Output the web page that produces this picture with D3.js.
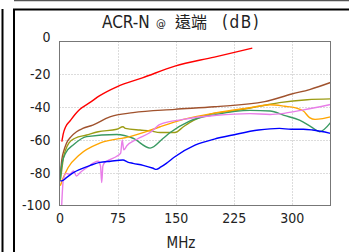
<!DOCTYPE html>
<html>
<head>
<meta charset="utf-8">
<script src="https://cdn.jsdelivr.net/npm/d3@7"></script>
<style>
body { margin: 0; background: #fff; }
text { font-family: "DejaVu Sans Condensed", "DejaVu Sans", sans-serif; fill: #222; }
</style>
</head>
<body>
<script>
// axis ticks
var xTicks = [0, 75, 150, 225, 300];
var yTicks = [0, -20, -40, -60, -80, -100];

// series: [MHz, dB]
var redData = [[3, -61], [5, -56], [8, -52], [13.5, -48.5], [20, -44.5], [26, -41.5], [40, -37], [52, -33], [74, -27.6], [108, -22], [149, -15], [200, -9.5], [249, -4]];
var brownData = [[1, -82], [3, -72], [6, -66], [9, -62], [15, -58], [22, -55], [30, -53], [43, -51], [65, -46], [95, -43.4], [149, -41.4], [200, -39.8], [265, -36.7], [300, -32], [323, -29.3], [350, -25]];
var oliveData = [[1, -85], [3, -78], [5, -71], [8, -66], [12, -62], [20, -59], [35, -57], [50, -55], [74, -53.5], [82, -52], [85, -53], [104, -54], [117, -54.5], [130, -55.5], [149, -55.5], [160, -52], [168, -49.5], [180, -46.5], [194, -44.4], [224, -42.4], [259, -39.4], [284, -37.3], [320, -35.5], [350, -35]];
var greenData = [[1, -84], [3, -75], [8, -68], [18, -63], [35, -58], [74, -56.7], [95, -59], [117, -65], [134, -59], [143, -55.5], [168, -48.5], [203, -44.4], [246, -42], [272, -42.4], [290, -45], [310, -48], [325, -52], [336, -55], [350, -49.5]];
var orangeData = [[1, -88], [5, -83], [11, -77], [26, -69], [52, -62], [91, -58], [112, -55], [130, -52], [160, -47.5], [203, -43.4], [246, -40.4], [272, -38.6], [291, -39.5], [305, -40.5], [315, -42.4], [323, -46.4], [330, -47.5], [340, -47], [350, -46]];
var violetData = [[2.8, -100], [5, -84], [9, -80.4], [13, -81], [18, -79], [22, -82], [26.5, -80], [35, -77], [44, -74], [50, -73], [53, -76], [54.5, -86], [56, -76], [58, -74], [65, -72], [74, -70], [79, -68], [81, -60], [83, -66], [87, -63.6], [100, -59.6], [117, -55.5], [130, -50.5], [160, -47.5], [203, -45], [246, -44], [272, -44.5], [290, -43.8], [312, -42], [350, -38.4]];
var blueData = [[1, -85], [3, -85], [9, -83], [18, -80], [26.5, -78], [40, -75.5], [52, -73.7], [66, -73], [82, -72.3], [88, -73.5], [95, -74.3], [108, -75.5], [121, -77.3], [125, -78], [131, -76.5], [138, -74.3], [149, -70.3], [175, -63.2], [200, -59.5], [224, -57], [257, -54], [284, -53], [299, -53.5], [315, -53.5], [327, -54], [350, -56]];

var series = [
  {data: brownData, color: "#a0522d"},
  {data: oliveData, color: "#9c9c14"},
  {data: greenData, color: "#3a9a62"},
  {data: orangeData, color: "#ffa500"},
  {data: violetData, color: "#e87ee8"},
  {data: blueData, color: "#0000ff"},
  {data: redData, color: "#ff0000"}
];

var width = 349, height = 252;

var svg = d3.select("body").append("svg")
  .attr("width", width)
  .attr("height", height);

// outer frame lines
svg.append("line").attr("x1", 2.5).attr("x2", 2.5).attr("y1", 9).attr("y2", height)
  .attr("stroke", "#000").attr("stroke-width", 2);
svg.append("line").attr("x1", 14).attr("x2", 14).attr("y1", 9).attr("y2", height)
  .attr("stroke", "#000").attr("stroke-width", 2);
svg.append("line").attr("x1", 13).attr("x2", width).attr("y1", 9.5).attr("y2", 9.5)
  .attr("stroke", "#000").attr("stroke-width", 2);
svg.append("line").attr("x1", 14).attr("x2", width).attr("y1", 0.5).attr("y2", 0.5)
  .attr("stroke", "#555").attr("stroke-width", 1.5);

var plot = {left: 59.5, right: 330.5, top: 41.5, bottom: 205.5};

var x = d3.scaleLinear().domain([0, 350]).range([plot.left, plot.right]);
var y = d3.scaleLinear().domain([-100, 0]).range([plot.bottom, plot.top]);

// grid
svg.append("g").selectAll("line")
  .data(xTicks.slice(1))
  .enter().append("line")
  .attr("x1", function(d){ return Math.round(x(d)) + 0.5; })
  .attr("x2", function(d){ return Math.round(x(d)) + 0.5; })
  .attr("y1", plot.top).attr("y2", plot.bottom)
  .attr("stroke", "#b8b8b8").attr("stroke-dasharray", "1,2");
svg.append("g").selectAll("line")
  .data(yTicks.slice(1, 5))
  .enter().append("line")
  .attr("y1", function(d){ return Math.round(y(d)) + 0.5; })
  .attr("y2", function(d){ return Math.round(y(d)) + 0.5; })
  .attr("x1", plot.left).attr("x2", plot.right)
  .attr("stroke", "#b8b8b8").attr("stroke-dasharray", "1,2");

// axes
var xAxis = svg.append("g")
  .attr("transform", "translate(0," + plot.bottom + ")")
  .call(d3.axisBottom(x).tickValues(xTicks).tickSize(0).tickPadding(8));
var yAxis = svg.append("g")
  .attr("transform", "translate(" + plot.left + ",0)")
  .call(d3.axisLeft(y).tickValues(yTicks).tickSize(0).tickPadding(9)
    .tickFormat(function(d){ return d < 0 ? "-" + Math.abs(d) : d; }));
[xAxis, yAxis].forEach(function(g){
  g.select(".domain").remove();
  g.selectAll("text").style("font-size", "14px").attr("fill", "#222");
});
// top label sits a little higher, as in the original
yAxis.selectAll("text").filter(function(d){ return d === 0; }).attr("y", -4);

// curves
var line = d3.line()
  .x(function(d){ return x(d[0]); })
  .y(function(d){ return y(d[1]); })
  .curve(d3.curveMonotoneX);

svg.append("g").selectAll("path")
  .data(series)
  .enter().append("path")
  .attr("d", function(s){ return line(s.data); })
  .attr("fill", "none")
  .attr("stroke", function(s){ return s.color; })
  .attr("stroke-width", 1.4);

// plot border
svg.append("rect")
  .attr("x", plot.left).attr("y", plot.top)
  .attr("width", plot.right - plot.left).attr("height", plot.bottom - plot.top)
  .attr("fill", "none").attr("stroke", "#777").attr("stroke-width", 1);

// title and axis label
var title = svg.append("text").attr("y", 28).style("font-size", "17px");
title.append("tspan").attr("x", 102).text("ACR-N");
title.append("tspan").attr("x", 156).style("font-size", "11px").attr("dy", -1).text("@");
title.append("tspan").attr("x", 175).attr("dy", 1)
  .style("font-family", "'Noto Sans CJK TC', sans-serif").style("font-size", "16px")
  .text("遠端");
title.append("tspan").attr("x", 222).style("letter-spacing", "1.5px").text("(dB)");

svg.append("text")
  .attr("x", 181).attr("y", 248)
  .attr("text-anchor", "middle")
  .style("font-size", "15px")
  .text("MHz");
</script>
</body>
</html>
